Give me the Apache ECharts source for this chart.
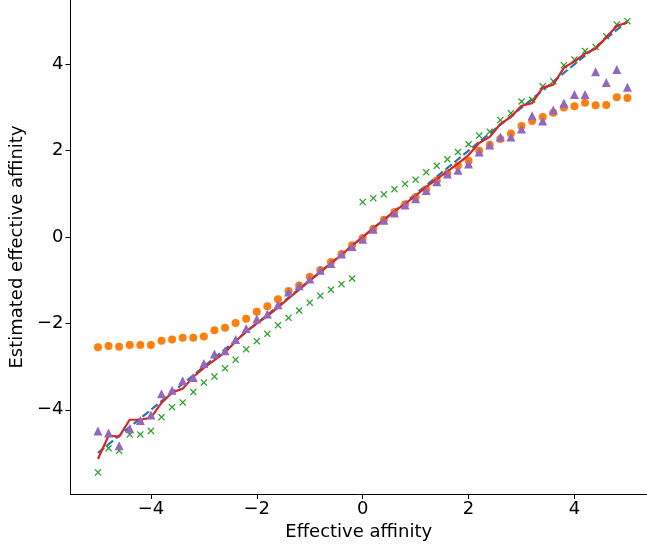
<!DOCTYPE html>
<html>
<head>
<meta charset="utf-8">
<script src="https://cdn.jsdelivr.net/npm/echarts@6/dist/echarts.min.js"></script>
<style>
html,body{margin:0;padding:0;background:#fff;}
#chart{width:647px;height:546px;}
</style>
</head>
<body>
<div id="chart"></div>
<script>
var xs = [-5.0,-4.8,-4.6,-4.4,-4.2,-4.0,-3.8,-3.6,-3.4,-3.2,-3.0,-2.8,-2.6,-2.4,-2.2,-2.0,-1.8,-1.6,-1.4,-1.2,-1.0,-0.8,-0.6,-0.4,-0.2,0.0,0.2,0.4,0.6,0.8,1.0,1.2,1.4,1.6,1.8,2.0,2.2,2.4,2.6,2.8,3.0,3.2,3.4,3.6,3.8,4.0,4.2,4.4,4.6,4.8,5.0];

var identityX = [-5, 5];
var identityY = [-5, 5];

var orangeY = [-2.55,-2.52,-2.54,-2.50,-2.50,-2.50,-2.40,-2.37,-2.33,-2.33,-2.30,-2.16,-2.10,-1.99,-1.89,-1.73,-1.60,-1.44,-1.25,-1.12,-0.92,-0.76,-0.58,-0.39,-0.19,-0.02,0.19,0.40,0.58,0.76,0.92,1.11,1.31,1.47,1.65,1.77,2.00,2.14,2.27,2.40,2.57,2.69,2.78,2.88,3.00,3.03,3.11,3.05,3.06,3.24,3.22];

var greenY = [-5.45,-4.89,-4.95,-4.57,-4.57,-4.49,-4.17,-3.94,-3.83,-3.59,-3.37,-3.23,-3.04,-2.84,-2.60,-2.41,-2.24,-2.04,-1.87,-1.70,-1.52,-1.36,-1.22,-1.09,-0.96,0.81,0.90,0.99,1.11,1.23,1.33,1.50,1.65,1.80,1.97,2.15,2.35,2.44,2.71,2.87,3.14,3.18,3.49,3.61,3.98,4.11,4.31,4.40,4.65,4.92,5.00];

var redY = [-5.14,-4.60,-4.62,-4.23,-4.23,-4.18,-3.84,-3.60,-3.51,-3.24,-3.03,-2.85,-2.67,-2.42,-2.18,-2.00,-1.83,-1.63,-1.42,-1.22,-1.01,-0.81,-0.61,-0.41,-0.20,0.00,0.21,0.40,0.60,0.77,0.96,1.16,1.34,1.52,1.70,1.90,2.18,2.32,2.62,2.78,3.04,3.10,3.46,3.53,3.92,4.07,4.25,4.36,4.62,4.89,4.97];

var purpleY = [-4.49,-4.54,-4.83,-4.44,-4.25,-4.12,-3.63,-3.55,-3.33,-3.25,-2.93,-2.71,-2.63,-2.37,-2.12,-1.90,-1.78,-1.57,-1.27,-1.13,-0.97,-0.77,-0.61,-0.39,-0.22,-0.05,0.18,0.39,0.56,0.74,0.89,1.08,1.28,1.46,1.55,1.69,1.97,2.13,2.32,2.32,2.50,2.81,2.69,2.94,3.10,3.30,3.30,3.83,3.58,3.88,3.47];

var tickValues = [-4, -2, 0, 2, 4];
var xLabel = 'Effective affinity';
var yLabel = 'Estimated effective affinity';

function pairs(x, y) {
  var out = [];
  for (var i = 0; i < x.length; i++) out.push([x[i], y[i]]);
  return out;
}
function fmt(v) {
  if (Math.abs(v % 2) > 1e-9) return '';
  return String(v).replace('-', '\u2212');
}

var xMarker = 'path://M1.3,0L5,3.7L8.7,0L10,1.3L6.3,5L10,8.7L8.7,10L5,6.3L1.3,10L0,8.7L3.7,5L0,1.3Z';

var font = 'DejaVu Sans';
var fs = 18;
var chart = echarts.init(document.getElementById('chart'), null, {renderer: 'canvas'});
chart.setOption({
  animation: false,
  backgroundColor: '#ffffff',
  textStyle: {fontFamily: font},
  grid: {left: 69, right: 0, top: 0, bottom: 52, containLabel: false},
  xAxis: {
    type: 'value',
    min: -5.52, max: 5.37,
    name: xLabel,
    nameLocation: 'middle',
    nameGap: 28,
    nameTextStyle: {fontFamily: font, fontSize: fs, color: '#000'},
    splitLine: {show: false},
    axisLine: {show: true, onZero: false, lineStyle: {color: '#000', width: 1}},
    axisTick: {show: true, length: 5, inside: false, lineStyle: {color: '#000', width: 1}, customValues: tickValues},
    axisLabel: {fontFamily: font, fontSize: fs, color: '#000', margin: 6, formatter: fmt, customValues: tickValues}
  },
  yAxis: {
    type: 'value',
    min: -5.95, max: 5.49,
    name: yLabel,
    nameLocation: 'middle',
    nameGap: 36,
    nameRotate: 90,
    nameTextStyle: {fontFamily: font, fontSize: fs, color: '#000'},
    splitLine: {show: false},
    axisLine: {show: true, onZero: false, lineStyle: {color: '#000', width: 1}},
    axisTick: {show: true, length: 5, inside: false, lineStyle: {color: '#000', width: 1}, customValues: tickValues},
    axisLabel: {fontFamily: font, fontSize: fs, color: '#000', margin: 7, formatter: fmt, customValues: tickValues}
  },
  series: [
    {
      type: 'line', data: pairs(identityX, identityY), showSymbol: false, symbol: 'none',
      lineStyle: {color: '#1f77b4', width: 2.2, type: [8, 3.5]}, z: 1
    },
    {
      type: 'scatter', data: pairs(xs, orangeY), symbol: 'circle', symbolSize: 8,
      itemStyle: {color: '#ff7f0e', opacity: 1}, z: 2
    },
    {
      type: 'scatter', data: pairs(xs, greenY), symbol: xMarker, symbolSize: 7,
      itemStyle: {color: '#2ca02c', opacity: 1}, z: 3
    },
    {
      type: 'line', data: pairs(xs, redY), showSymbol: false, symbol: 'none',
      lineStyle: {color: '#d62728', width: 2.2}, z: 4
    },
    {
      type: 'scatter', data: pairs(xs, purpleY), symbol: 'triangle', symbolSize: 9,
      itemStyle: {color: '#9467bd', opacity: 1}, z: 5
    }
  ]
});
</script>
</body>
</html>
